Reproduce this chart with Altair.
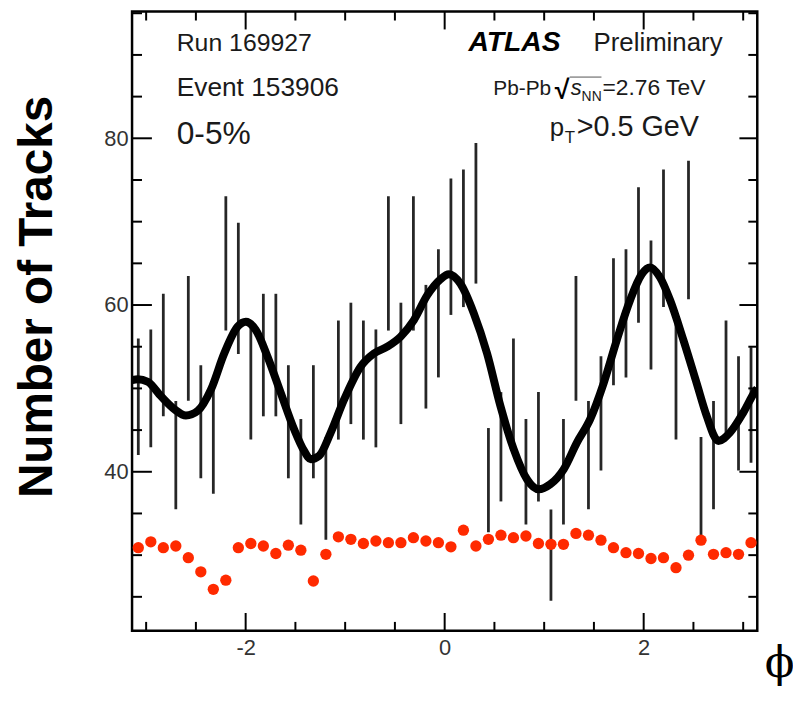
import math
import altair as alt
import pandas as pd

# ---------------- data ----------------
N_BINS = 50
PHI_MIN, PHI_MAX = -math.pi, math.pi

# track counts per phi bin (error bars are +-sqrt(N))
track_counts = [49, 50, 54, 42, 56, 46, 44, 65, 62, 51,
                54, 54, 46, 40, 46, 38, 51, 53, 51, 50,
                65, 53, 65, 55, 59, 67, 68, 71, 39, 43,
                49, 40, 43, 30, 40, 56, 42, 47, 58, 59,
                66, 60, 68, 51, 69, 38, 42, 51, 47, 48]

# red points
red_values = [30.9, 31.6, 30.9, 31.1, 29.7, 28.0, 25.9, 27.0, 30.9, 31.4,
              31.1, 30.2, 31.2, 30.6, 26.9, 30.1, 32.2, 31.9, 31.4, 31.7,
              31.5, 31.5, 32.1, 31.7, 31.5, 31.0, 33.0, 31.1, 31.9, 32.4,
              32.1, 32.3, 31.4, 31.3, 31.3, 32.6, 32.4, 31.8, 30.9, 30.3,
              30.2, 29.6, 29.7, 28.5, 30.0, 31.8, 30.1, 30.3, 30.1, 31.5]

# smooth fit curve
fit_phi = [-3.1416, -3.084, -2.984, -2.850, -2.716, -2.600, -2.482, -2.349, -2.215,
           -2.081, -1.998, -1.898, -1.780, -1.647, -1.513, -1.412, -1.346, -1.262,
           -1.145, -1.011, -0.845, -0.710, -0.577, -0.443, -0.309, -0.176, -0.042,
           0.042, 0.159, 0.293, 0.426, 0.560, 0.694, 0.827, 0.945, 1.061, 1.196,
           1.329, 1.462, 1.597, 1.730, 1.864, 1.981, 2.064, 2.165, 2.265, 2.399,
           2.533, 2.633, 2.750, 2.867, 3.001, 3.117, 3.1416]
fit_values = [51.0, 51.1, 50.8, 49.05, 47.5, 46.75, 47.3, 49.85, 54.2,
              57.4, 58.0, 57.0, 53.8, 49.45, 45.1, 42.5, 41.5, 41.9,
              44.7, 48.65, 52.6, 54.2, 55.0, 56.2, 58.2, 61.15, 63.1,
              63.7, 62.55, 59.0, 54.2, 47.9, 42.7, 39.1, 37.9, 38.5, 40.3,
              43.5, 46.3, 50.6, 55.8, 60.6, 63.7, 64.5, 63.3, 60.6, 55.8,
              50.6, 46.7, 43.7, 44.7, 47.1, 49.6, 50.0]

x_major = [-2, 0, 2]
x_minor = [-3, -2.5, -1.5, -1, -0.5, 0.5, 1, 1.5, 2.5, 3]
y_major = [40, 60, 80]
y_minor = [25, 30, 35, 45, 50, 55, 65, 70, 75, 85, 90, 95]

# ---------------- tables ----------------
W, H = 630, 624
bin_w = (PHI_MAX - PHI_MIN) / N_BINS
phi_centers = [PHI_MIN + (i + 0.5) * bin_w for i in range(N_BINS)]

hist = pd.DataFrame({"phi": phi_centers, "n": track_counts})
hist["lo"] = hist["n"] - hist["n"] ** 0.5
hist["hi"] = hist["n"] + hist["n"] ** 0.5
red = pd.DataFrame({"phi": phi_centers, "v": red_values})
fit = pd.DataFrame({"phi": fit_phi, "v": fit_values})

xs = alt.Scale(domain=[PHI_MIN, PHI_MAX], nice=False, zero=False)
ys = alt.Scale(domain=[20.92, 95.2], nice=False, zero=False)

FONT = "Liberation Sans"

X_AX = alt.Axis(
    values=x_major, ticks=False, domain=False, grid=False,
    labelExpr="datum.value < 0 ? '-' + abs(datum.value) : '' + datum.value",
    labelFontSize=22, labelColor="#333333", labelFont=FONT, labelPadding=7,
    title="ϕ", titleFont="DejaVu Serif", titleFontSize=44, titleFontWeight="normal",
    titleColor="black", titleX=652, titleY=46, titleAlign="center",
    titleBaseline="alphabetic")
Y_AX = alt.Axis(
    values=y_major, ticks=False, domain=False, grid=False,
    labelFontSize=22, labelColor="#333333", labelFont=FONT, labelPadding=4,
    title="Number of Tracks", titleFont=FONT, titleFontSize=48,
    titleFontWeight="bold", titleColor="black", titleAngle=270,
    titleX=-81, titleY=287, titleAlign="center", titleBaseline="alphabetic")


def X(field):
    return alt.X(field, scale=xs, axis=X_AX)


def Y(field):
    return alt.Y(field, scale=ys, axis=Y_AX)


err = alt.Chart(hist).mark_rule(color="#262626", strokeWidth=2.8, clip=True).encode(
    x=X("phi:Q"), y=Y("lo:Q"), y2="hi:Q")

curve = alt.Chart(fit).mark_line(color="black", strokeWidth=8, interpolate="monotone",
                                 clip=True).encode(x=X("phi:Q"), y=Y("v:Q"))

dots = alt.Chart(red).mark_circle(color="#ff2a00", opacity=1, size=130).encode(
    x=X("phi:Q"), y=Y("v:Q"))


def xticks(vals, length, top):
    return alt.Chart(pd.DataFrame({"phi": vals})).mark_rule(color="black", strokeWidth=2).encode(
        x=X("phi:Q"),
        y=alt.value(0 if top else H),
        y2=alt.value(length if top else H - length),
    )


def yticks(vals, length, right):
    return alt.Chart(pd.DataFrame({"v": vals})).mark_rule(color="black", strokeWidth=2).encode(
        y=Y("v:Q"),
        x=alt.value(W if right else 0),
        x2=alt.value(W - length if right else length),
    )


def label(text, x, y, size, weight="normal", style="normal", color="#1a1a1a",
          font=FONT):
    return alt.Chart(pd.DataFrame({"t": [text]})).mark_text(
        align="left", baseline="alphabetic", fontSize=size, fontWeight=weight,
        fontStyle=style, color=color, font=font).encode(
        text="t:N", x=alt.value(x), y=alt.value(y))


ticks = [
    xticks(x_major, 18, False), xticks(x_minor, 9, False),
    xticks(x_major, 18, True), xticks(x_minor, 9, True),
    yticks(y_major, 20, False), yticks(y_minor, 10, False),
    yticks(y_major, 18, True), yticks(y_minor, 9, True),
]

overline = alt.Chart(pd.DataFrame({"a": [0]})).mark_rule(color="#555555", strokeWidth=1).encode(
    x=alt.value(441), x2=alt.value(473), y=alt.value(66))

texts = [
    label("Run 169927", 45, 40, 25),
    label("Event 153906", 45, 85, 26.5),
    label("0-5%", 45, 133, 32),
    label("ATLAS", 339, 40, 28.5, weight="bold", style="italic", color="black"),
    label("Preliminary", 465, 40, 26),
    label("Pb-Pb", 364, 84, 21),
    label("√", 426, 88, 27, weight="bold", color="black"),
    label("s", 442, 84, 22, style="italic"),
    label("NN", 453, 90, 14),
    label("=2.76 TeV", 474, 84, 23),
    label("p", 421, 125, 26),
    label("T", 436, 132, 17),
    label(">0.5 GeV", 448, 125, 29),
]

chart = alt.layer(err, curve, dots, *ticks, overline, *texts).properties(
    width=W, height=H,
    padding={"left": 125, "top": 1, "right": 36, "bottom": 56},
    autosize=alt.AutoSizeParams(type="none"),
).configure(background="white",
            view=alt.ViewConfig(stroke="black", strokeWidth=2.5))

chart.save("out.html", embed_options={"renderer": "svg", "actions": False})
